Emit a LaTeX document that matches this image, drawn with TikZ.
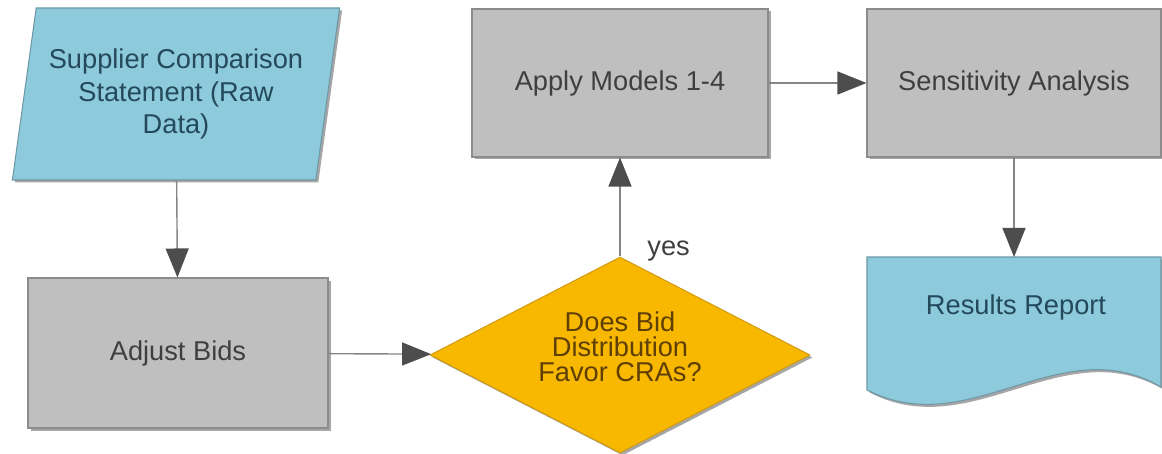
\documentclass[tikz,border=0pt]{standalone}
\usepackage{fontspec}
\setmainfont{Liberation Sans}
\usetikzlibrary{arrows.meta,shapes.geometric,shadows}

\definecolor{boxgray}{HTML}{BFBFBF}
\definecolor{boxedge}{HTML}{8C8C8C}
\definecolor{datablue}{HTML}{8DCADB}
\definecolor{dataedge}{HTML}{6F98A6}
\definecolor{decfill}{HTML}{F9B800}
\definecolor{decedge}{HTML}{D29B10}
\definecolor{linegray}{HTML}{858585}
\definecolor{tipgray}{HTML}{4D4D4D}
\definecolor{textgray}{HTML}{3F3F3F}
\definecolor{textblue}{HTML}{23495A}
\definecolor{textbrown}{HTML}{5E3F05}

\begin{document}
\begin{tikzpicture}[
  font=\fontsize{15.5}{18.5}\selectfont,
  boxshadow/.style={drop shadow={shadow xshift=0.05cm, shadow yshift=-0.05cm, opacity=0.35, fill=black}},
  process/.style={rectangle, draw=boxedge, fill=boxgray, text=textgray, line width=0.6pt,
    minimum width=6cm, minimum height=3cm, align=center, boxshadow},
  datain/.style={trapezium, trapezium left angle=77.5, trapezium right angle=102.5,
    trapezium stretches=true, draw=dataedge, fill=datablue, text=textblue, line width=0.6pt,
    minimum width=6.56cm, minimum height=3.44cm, align=center, boxshadow},
  decision/.style={diamond, aspect=1.94, inner sep=0pt, draw=decedge, fill=decfill,
    text=textbrown, line width=0.6pt, minimum width=7.6cm, minimum height=3.92cm,
    align=center, font=\fontsize{15.5}{14.2}\selectfont, boxshadow},
  flow/.style={draw=linegray, line width=0.8pt,
    -{Triangle[length=0.58cm, width=0.46cm, color=tipgray]}}
]
  \useasboundingbox (0,0) rectangle (23.24,9.06);

  % Input data
  \node[datain] (data) at (3.52,7.18) {Supplier Comparison\\Statement (Raw\\Data)};

  % Steps
  \node[process] (adjust) at (3.56,2.0) {Adjust Bids};
  \node[decision] (dec) at (12.4,1.96) {Does Bid\\Distribution\\Favor CRAs?\\[-0.18cm]};
  \node[process, minimum width=5.92cm, minimum height=2.96cm] (apply) at (12.4,7.4) {Apply Models 1-4};
  \node[process, minimum width=5.88cm, minimum height=2.96cm] (sens) at (20.28,7.4) {Sensitivity Analysis};

  % Report (document shape)
  \draw[draw=dataedge, fill=datablue, line width=0.6pt, boxshadow]
    (17.34,3.92) -- (23.22,3.92) -- (23.22,1.32)
    .. controls (21.2,2.5) and (19.4,0.2) .. (17.34,1.26) -- cycle;
  \node[text=textblue] (report) at (20.32,2.92) {Results Report};
  \coordinate (reptop) at (20.36,3.92);

  % Arrows
  \draw[flow] (data) -- (adjust);
  \draw[flow] (adjust) -- (dec);
  \draw[flow] (dec) -- node[pos=0, anchor=south west, xshift=0.5cm, yshift=-0.15cm, inner sep=1pt, text=textgray] (yes) {yes} (apply);
  \draw[flow] (apply) -- (sens);
  \draw[flow] (sens.south) -- (sens.south |- reptop);
\end{tikzpicture}
\end{document}
